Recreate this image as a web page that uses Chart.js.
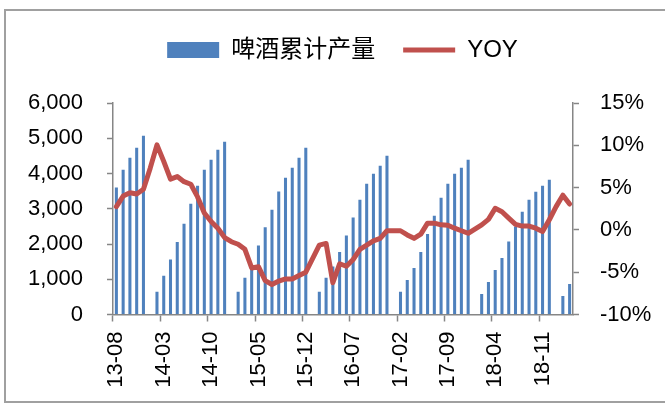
<!DOCTYPE html>
<html>
<head>
<meta charset="utf-8">
<script src="https://cdn.jsdelivr.net/npm/chart.js@4"></script>
<style>
  html, body { margin: 0; padding: 0; background: #fff; }
  #wrap { position: relative; width: 665px; height: 407px; overflow: hidden; }
  #frame { position: absolute; left: 4px; top: 9px; width: 700px; height: 394px; border-left: 2px solid #a0a0a0; border-top: 2px solid #a0a0a0; border-bottom: 2px solid #a0a0a0; box-sizing: border-box; pointer-events: none; }
  canvas { position: absolute; left: 0; top: 0; }
</style>
</head>
<body>
<div id="wrap">
  <canvas id="c" width="665" height="407"></canvas>
  <div id="frame"></div>
</div>
<script>
const categories = [
  '13-08','13-09','13-10','13-11','13-12',
  '14-01','14-02','14-03','14-04','14-05','14-06','14-07','14-08','14-09','14-10','14-11','14-12',
  '15-01','15-02','15-03','15-04','15-05','15-06','15-07','15-08','15-09','15-10','15-11','15-12',
  '16-01','16-02','16-03','16-04','16-05','16-06','16-07','16-08','16-09','16-10','16-11','16-12',
  '17-01','17-02','17-03','17-04','17-05','17-06','17-07','17-08','17-09','17-10','17-11','17-12',
  '18-01','18-02','18-03','18-04','18-05','18-06','18-07','18-08','18-09','18-10','18-11','18-12',
  '19-01','19-02','19-03'
];

// 啤酒累计产量 (cumulative beer output); January not reported
const beerOutput = [
  3602, 4105, 4446, 4730, 5071,
  null, 648, 1102, 1557, 2060, 2571, 3139, 3651, 4105, 4389, 4673, 4900,
  null, 648, 1045, 1265, 1955, 2477, 2969, 3489, 3878, 4162, 4446, 4730,
  null, 648, 1045, 1360, 1776, 2240, 2750, 3253, 3708, 3992, 4219, 4503,
  null, 648, 980, 1321, 1776, 2287, 2798, 3310, 3708, 3992, 4162, 4389,
  null, 582, 923, 1264, 1605, 2070, 2495, 2912, 3253, 3480, 3651, 3821,
  null, 526, 867
];

// YOY (%)
const yoy = [
  2.75, 4.0, 4.4, 4.25, 4.8,
  7.3, 10.05, 8.1, 6.0, 6.3, 5.7, 5.4, 3.9, 2.0, 1.0, 0.2, -0.9,
  -1.4, -1.7, -2.3, -4.5, -4.35, -6.0, -6.45, -6.05, -5.8, -5.8, -5.4, -5.0,
  -3.4, -1.8, -1.6, -6.25, -4.0, -4.3, -3.5, -2.3, -1.8, -1.3, -1.0, -0.1,
  -0.1, -0.1, -0.6, -1.0, -0.5, 0.8, 0.8, 0.6, 0.55, 0.2, -0.1, -0.4,
  0.1, 0.6, 1.25, 2.55, 2.15, 1.4, 0.65, 0.45, 0.45, 0.2, -0.2, 1.2,
  2.75, 4.1, 3.05
];

const leftTicks = [0, 1000, 2000, 3000, 4000, 5000, 6000];
const rightTicks = [-10, -5, 0, 5, 10, 15];

const AXIS = '#868686';
const FONT = "'Liberation Sans', 'Noto Sans CJK SC', sans-serif";

const legendSpacer = {
  id: 'legendSpacer',
  beforeInit(chart) {
    const origFit = chart.legend.fit;
    chart.legend.fit = function () {
      origFit.call(this);
      this.height += 31;
      if (this.lineWidths) this.lineWidths = this.lineWidths.map(w => w - 20);
    };
  }
};

new Chart(document.getElementById('c'), {
  data: {
    labels: categories,
    datasets: [
      {
        type: 'line',
        label: 'YOY',
        data: yoy,
        yAxisID: 'y1',
        borderColor: '#C0504D',
        backgroundColor: '#C0504D',
        borderWidth: 5,
        pointRadius: 0,
        pointHoverRadius: 0,
        pointStyle: 'line',
        borderCapStyle: 'round',
        borderJoinStyle: 'round',
        tension: 0,
        spanGaps: true,
        order: 0
      },
      {
        type: 'bar',
        label: '啤酒累计产量',
        data: beerOutput,
        yAxisID: 'y',
        backgroundColor: '#4F81BD',
        borderWidth: 0,
        pointStyle: 'rect',
        barPercentage: 0.45,
        categoryPercentage: 1.0,
        order: 1
      }
    ]
  },
  options: {
    responsive: false,
    animation: false,
    layout: { padding: { top: 10, left: 0, right: 0, bottom: 0 } },
    plugins: {
      tooltip: { enabled: false },
      legend: {
        display: true,
        position: 'top',
        reverse: true,
        labels: {
          usePointStyle: true,
          pointStyleWidth: 52,
          boxHeight: 16,
          padding: 28,
          color: '#000',
          font: { family: FONT, size: 24 }
        }
      }
    },
    scales: {
      x: {
        type: 'category',
        offset: true,
        grid: {
          offset: true,
          drawOnChartArea: false,
          drawTicks: true,
          tickLength: 7,
          tickWidth: 1.5,
          tickColor: (ctx) => (ctx.index % 7 === 0 ? AXIS : 'rgba(0,0,0,0)')
        },
        border: { display: true, color: AXIS, width: 1.5 },
        ticks: {
          autoSkip: false,
          maxRotation: 90,
          minRotation: 90,
          padding: 10,
          color: '#000',
          font: { family: FONT, size: 22 },
          callback: (v, i) => (i % 7 === 0 ? categories[i] : '')
        },
        afterFit: (s) => { s.height = 92.5; }
      },
      y: {
        position: 'left',
        min: leftTicks[0],
        max: leftTicks[leftTicks.length - 1],
        afterBuildTicks: (s) => { s.ticks = leftTicks.map(v => ({ value: v })); },
        grid: { drawOnChartArea: false, drawTicks: true, tickLength: 6, tickWidth: 1.5, tickColor: AXIS },
        border: { display: true, color: AXIS, width: 1.5 },
        ticks: {
          padding: 24,
          color: '#000',
          font: { family: FONT, size: 22 },
          callback: (v) => v.toLocaleString('en-US')
        },
        afterFit: (s) => { s.width = 113; }
      },
      y1: {
        position: 'right',
        min: rightTicks[0],
        max: rightTicks[rightTicks.length - 1],
        afterBuildTicks: (s) => { s.ticks = rightTicks.map(v => ({ value: v })); },
        grid: { drawOnChartArea: false, drawTicks: true, tickLength: 6, tickWidth: 1.5, tickColor: AXIS },
        border: { display: true, color: AXIS, width: 1.5 },
        ticks: {
          padding: 21,
          color: '#000',
          font: { family: FONT, size: 22 },
          callback: (v) => v + '%'
        },
        afterFit: (s) => { s.width = 92; }
      }
    }
  },
  plugins: [legendSpacer]
});
</script>
</body>
</html>
